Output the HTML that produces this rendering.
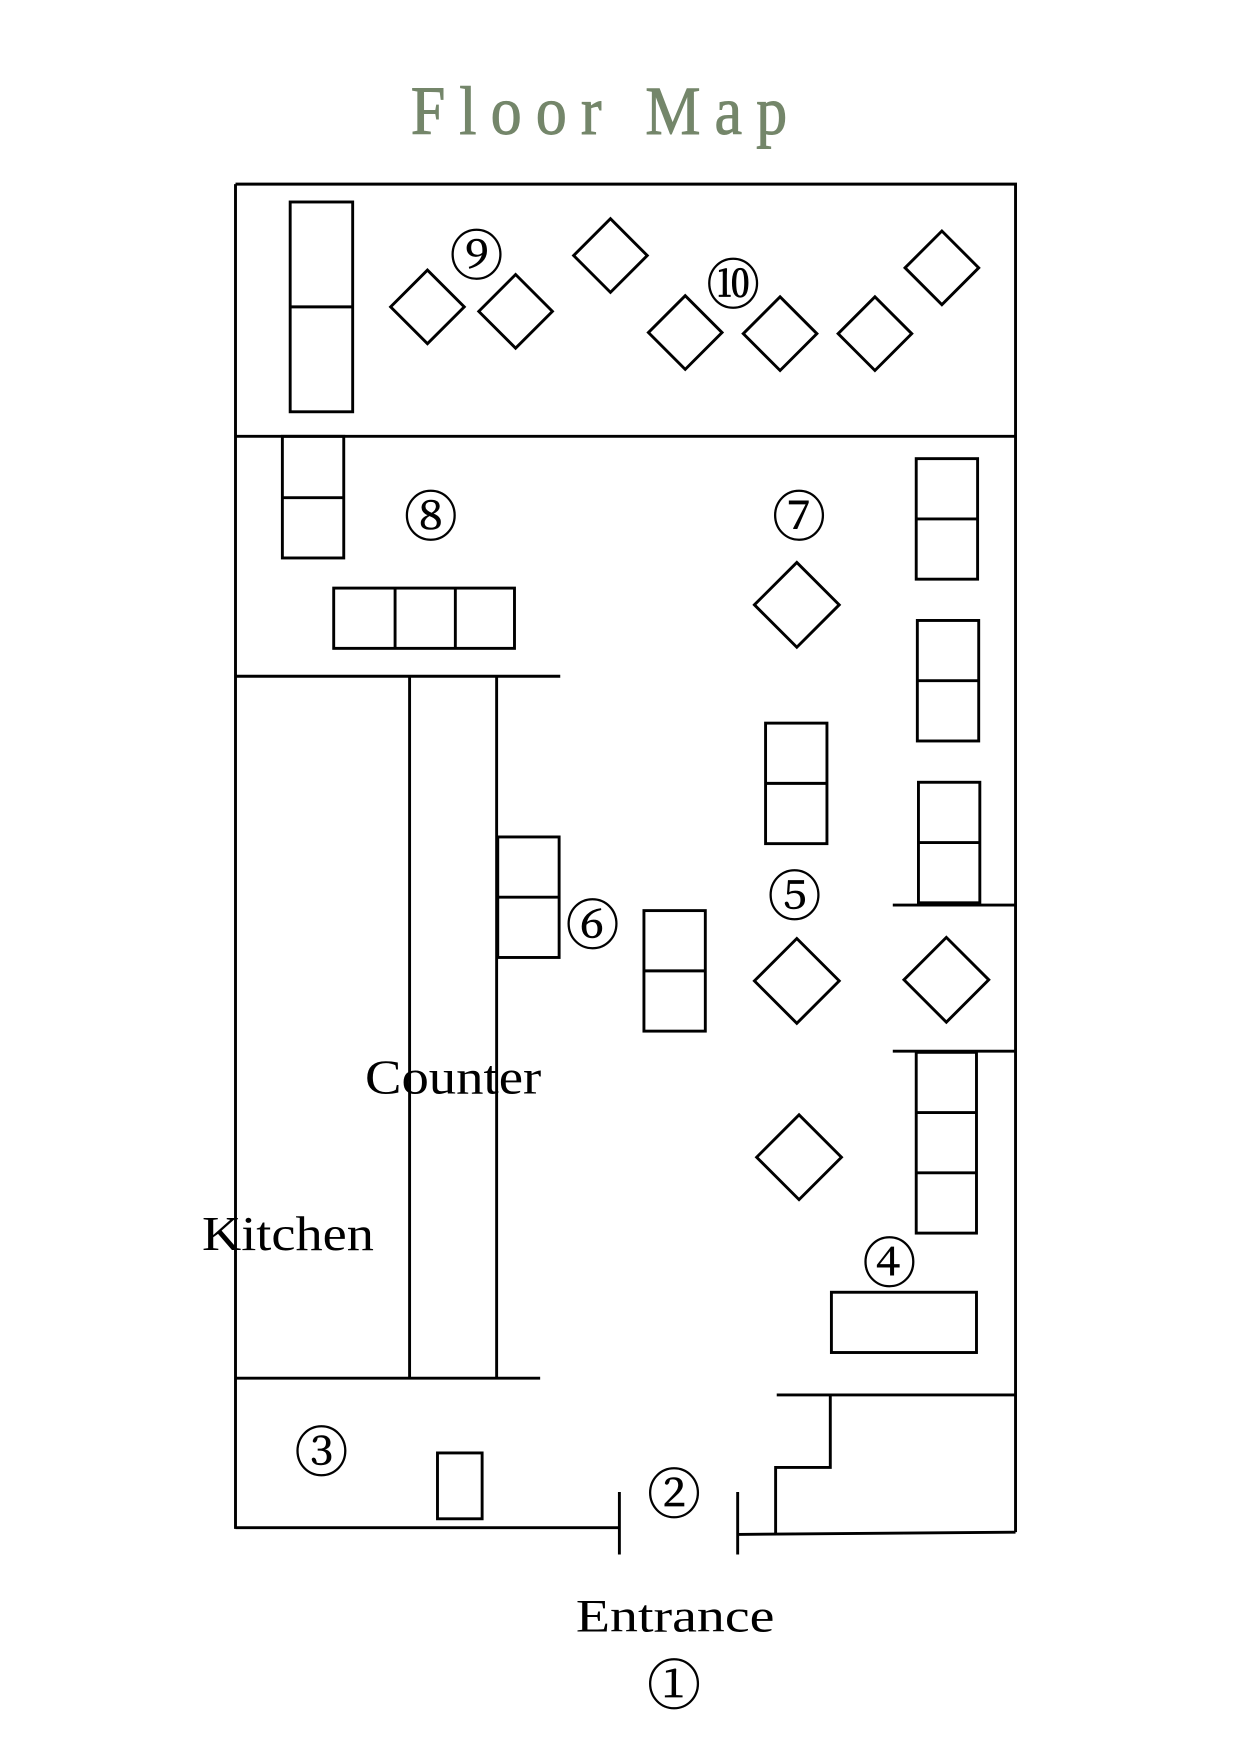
<!DOCTYPE html>
<html><head><meta charset="utf-8"><style>html,body{margin:0;padding:0;background:#fff}svg{display:block}</style></head>
<body>
<svg width="1241" height="1748" viewBox="0 0 1112 1566.4" xmlns="http://www.w3.org/2000/svg">
<g font-family="'Liberation Serif','Noto Serif CJK SC',serif" text-anchor="middle">
<text x="543" y="120" font-size="62" fill="#74866a" stroke="#74866a" stroke-width="0.8" letter-spacing="14" textLength="350" lengthAdjust="spacingAndGlyphs">Floor Map</text>
</g>
<g fill="none" stroke="#000" stroke-width="2.6">
<path d="M211 165 H910 V1373 M211 165 V1370 M211 391 H910"/>
<rect x="260" y="181" width="56" height="188"/><path d="M260 275 H316"/>
<path d="M350 275 l33 -33 l33 33 l-33 33 z"/>
<path d="M429 279 l33 -33 l33 33 l-33 33 z"/>
<path d="M514 229 l33 -33 l33 33 l-33 33 z"/>
<path d="M581 298 l33 -33 l33 33 l-33 33 z"/>
<path d="M666 299 l33 -33 l33 33 l-33 33 z"/>
<path d="M751 299 l33 -33 l33 33 l-33 33 z"/>
<path d="M811 240 l33 -33 l33 33 l-33 33 z"/>
<rect x="253" y="391" width="55" height="109"/><path d="M253 446 H308"/>
<rect x="299" y="527" width="162" height="54"/><path d="M354 527 V581 M408 527 V581"/>
<path d="M211 606 H502"/>
<path d="M676 542 l38 -38 l38 38 l-38 38 z"/>
<rect x="821" y="411" width="55" height="108"/><path d="M821 465 H876"/>
<rect x="822" y="556" width="55" height="108"/><path d="M822 610 H877"/>
<rect x="823" y="701" width="55" height="108"/><path d="M823 755 H878"/>
<path d="M800 811 H910 M800 942 H910"/>
<path d="M810 878 l38 -38 l38 38 l-38 38 z"/>
<rect x="821" y="943" width="54" height="162"/><path d="M821 997 H875 M821 1051 H875"/>
<rect x="745" y="1158" width="130" height="54"/>
<rect x="686" y="648" width="55" height="108"/><path d="M686 702 H741"/>
<path d="M676 879 l38 -38 l38 38 l-38 38 z"/>
<rect x="577" y="816" width="55" height="108"/><path d="M577 870 H632"/>
<rect x="446" y="750" width="55" height="108"/><path d="M446 804 H501"/>
<path d="M678 1037 l38 -38 l38 38 l-38 38 z"/>
<path d="M367 606 V1235 M445 606 V1235 M211 1235 H484"/>
<rect x="392" y="1302" width="40" height="59"/>
<path d="M211 1369 H555 M555 1337 V1393 M661 1337 V1393 M661 1375 L910 1373"/>
<path d="M696 1250 H910 M744 1250 V1315 H695 V1374"/>
</g>
<g font-family="'Liberation Serif','Noto Serif CJK SC','DejaVu Serif',serif" text-anchor="middle" fill="#000">
<text x="406" y="980" font-size="44" textLength="158" lengthAdjust="spacingAndGlyphs">Counter</text>
<text x="258" y="1120" font-size="44" textLength="154" lengthAdjust="spacingAndGlyphs">Kitchen</text>
<text x="605" y="1462" font-size="42" textLength="178" lengthAdjust="spacingAndGlyphs">Entrance</text>
<g font-size="48" stroke="#000" stroke-width="0.6">
<text x="427" y="246">⑨</text>
<text x="657" y="272">⑩</text>
<text x="386" y="480">⑧</text>
<text x="716" y="480">⑦</text>
<text x="712" y="820">⑤</text>
<text x="531" y="846">⑥</text>
<text x="797" y="1149">④</text>
<text x="288" y="1318">③</text>
<text x="604" y="1356">②</text>
<text x="604" y="1527">①</text>
</g>
</g>
</svg>
</body></html>
